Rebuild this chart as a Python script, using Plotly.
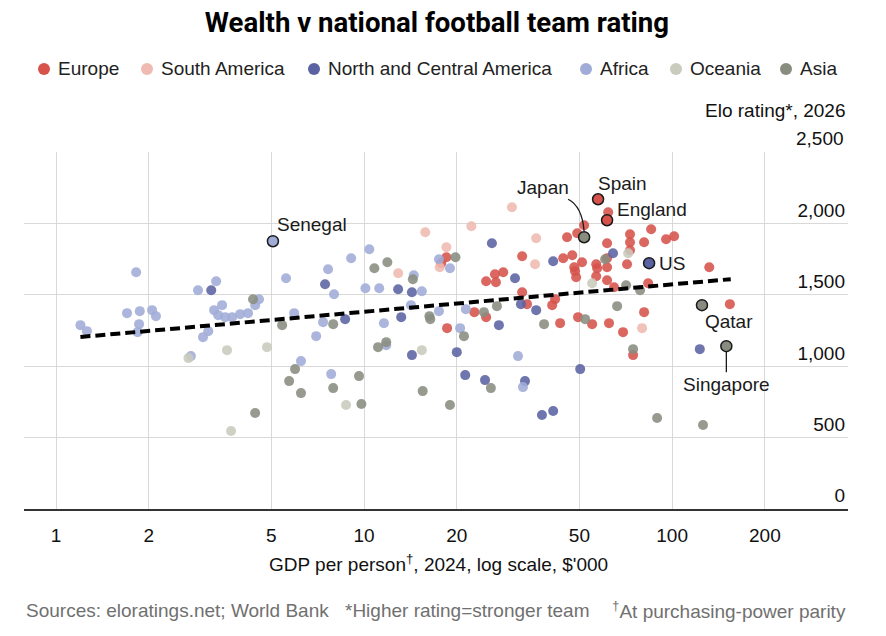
import numpy as np
import plotly.graph_objects as go

# ---------------- data (GDP per person, $'000 PPP ; Elo rating) ----------------
europe_gdp = [18.6, 22.8, 24.9, 24.9, 26.6, 28.3, 26.8, 17.8, 18.5, 32.6, 32.6, 33.8, 43.3, 44.3,
              47.4, 45.6, 49.2, 51.8, 40.8, 41.7, 49.5, 55.0, 48.1, 48.4, 48.8, 51.0, 56.7, 57.1,
              56.7, 61.5, 61.5, 61.5, 61.5, 62.0, 73.0, 73.0, 73.0, 71.4, 81.1, 85.5, 83.6, 81.1,
              62.4, 69.3, 74.7, 64.8, 95.6, 101.5, 132, 154]
europe_elo = [1267, 1379, 1344, 1596, 1645, 1659, 1589, 1722, 1764, 1771, 1519, 1435, 1302, 1757,
              1778, 1904, 1932, 1988, 1428, 1470, 1344, 1295, 1694, 1666, 1624, 1729, 1715, 1687,
              1631, 1862, 1757, 1694, 1603, 2079, 1925, 1869, 1813, 1715, 1869, 1960, 1582, 1379,
              1302, 1239, 1078, 1554, 1890, 1911, 1694, 1435]

samerica_gdp = [12.9, 15.8, 18.5, 17.6, 22.3, 30.2, 36.2, 35.9, 79.9]
samerica_elo = [1652, 1939, 1834, 1694, 1981, 2114, 1897, 1715, 1267]

ncamerica_gdp = [3.19, 7.47, 8.68, 12.9, 14.3, 13.2, 14.3, 20.0, 21.3, 24.7, 26.0, 30.9, 32.3,
                 36.2, 27.4, 33.3, 37.8, 41.1, 41.1, 50.3, 64.3, 123]
ncamerica_elo = [1533, 1575, 1330, 1540, 1519, 1344, 1078, 1099, 938, 903, 1862, 1617, 1435,
                 1393, 1288, 896, 658, 686, 1736, 980, 1792, 1120]

africa_gdp = [1.20, 1.26, 1.70, 1.82, 1.87, 1.86, 1.84, 2.05, 2.11, 2.89, 3.00, 3.12, 2.74, 3.31,
              3.26, 3.46, 3.36, 3.54, 3.73, 3.96, 4.20, 4.56, 4.43, 5.58, 5.93, 6.24, 6.99, 7.36,
              7.64, 7.99, 7.82, 9.08, 10.4, 10.1, 11.2, 11.6, 11.8, 14.5, 15.4, 14.2, 17.5, 17.5,
              19.0, 20.5, 21.4, 31.6, 32.8]
africa_elo = [1288, 1246, 1372, 1659, 1386, 1295, 1239, 1393, 1351, 1533, 1204, 1246, 1071, 1596,
              1393, 1428, 1358, 1344, 1344, 1365, 1372, 1470, 1428, 1617, 1372, 1036, 1211, 1309,
              1680, 1505, 945, 1757, 1820, 1547, 1547, 1302, 1148, 1638, 1526, 1428, 1386, 1750,
              1687, 1267, 1400, 1071, 854]

oceania_gdp = [2.69, 3.59, 4.84, 3.70, 8.74, 15.4, 55.0, 72.0]
oceania_elo = [1057, 1113, 1134, 546, 728, 1113, 1582, 1792]

asia_gdp = [4.36, 5.42, 5.97, 5.71, 6.24, 4.43, 7.94, 7.94, 10.8, 11.9, 14.4, 11.1, 11.8, 9.63,
            9.8, 15.5, 19.0, 16.3, 16.4, 19.8, 21.1, 24.5, 25.8, 27.0, 38.4, 52.2, 60.6, 66.3,
            70.9, 78.7, 74.7, 89.4, 126]
asia_elo = [1470, 1288, 980, 896, 812, 672, 1295, 847, 1687, 1729, 1610, 1134, 1169, 931,
            735, 826, 728, 1351, 1330, 1764, 1211, 1379, 847, 1421, 1295, 1330, 1750, 1421,
            1568, 1533, 1120, 637, 588]

hl_names = ["Spain", "England", "Japan", "US", "Qatar", "Singapore", "Senegal"]
hl_region = ["Europe", "Europe", "Asia", "North and Central America", "Asia", "Asia", "Africa"]
hl_gdp = [57.5, 61.5, 51.8, 84.2, 125, 150, 5.06]
hl_elo = [2170, 2023, 1904, 1722, 1428, 1141, 1876]

trend_gdp = [1.2, 155]
trend_elo = [1205, 1610]

x_ticks = [1, 2, 5, 10, 20, 50, 100, 200]
y_ticks = [0, 500, 1000, 1500, 2000, 2500]

# ---------------- styling ----------------
colors = {
    "Europe": "#d6524b",
    "South America": "#efbab1",
    "North and Central America": "#5b62a2",
    "Africa": "#a0acd7",
    "Oceania": "#c9cbbd",
    "Asia": "#898d7f",
}
FONT = "Liberation Sans, Arial, sans-serif"
L, R, T, B = 24, 38, 152, 127
W, H = 886 - L - R, 636 - T - B
XR = [-0.104, 2.571]
YR = [0, 2501]

groups = [
    ("Europe", europe_gdp, europe_elo),
    ("South America", samerica_gdp, samerica_elo),
    ("North and Central America", ncamerica_gdp, ncamerica_elo),
    ("Africa", africa_gdp, africa_elo),
    ("Oceania", oceania_gdp, oceania_elo),
    ("Asia", asia_gdp, asia_elo),
]

fig = go.Figure()
for name, gx, gy in groups:
    fig.add_trace(go.Scatter(
        x=gx, y=gy, mode="markers", name=name, showlegend=False,
        marker=dict(size=10, color=colors[name], opacity=0.88, line=dict(width=0)),
        hoverinfo="skip"))

fig.add_trace(go.Scatter(
    x=trend_gdp, y=trend_elo, mode="lines", showlegend=False,
    line=dict(color="black", width=4, dash="10px,5px"), hoverinfo="skip"))

fig.add_trace(go.Scatter(
    x=hl_gdp, y=hl_elo, mode="markers", showlegend=False,
    marker=dict(size=11, color=[colors[r] for r in hl_region],
                line=dict(color="#1a1a1a", width=1.5)),
    hoverinfo="skip"))

# labels for highlighted countries: (xanchor, xshift, yshift)
label_pos = {
    "Spain": ("left", -2, 16),
    "England": ("left", 8, 11),
    "US": ("left", 8, 0),
    "Qatar": ("left", 1, -16),
    "Senegal": ("left", 2, 17),
    "Japan": ("right", -13, 50),
}
annotations = []
for n, gx, gy in zip(hl_names, hl_gdp, hl_elo):
    if n in label_pos:
        xa, xs, ys = label_pos[n]
        annotations.append(dict(x=np.log10(gx), y=gy, xref="x", yref="y", text=n,
                                showarrow=False, xanchor=xa, yanchor="middle",
                                xshift=xs, yshift=ys,
                                font=dict(family=FONT, size=19, color="#1a1a1a")))
    elif n == "Singapore":
        annotations.append(dict(x=np.log10(gx), y=gy, xref="x", yref="y", text=n,
                                showarrow=True, arrowhead=0, arrowwidth=1.3,
                                arrowcolor="#1a1a1a", ax=0, ay=38, standoff=5,
                                font=dict(family=FONT, size=19, color="#1a1a1a")))


def to_paper(gx, gy, dx=0.0, dy=0.0):
    px = (np.log10(gx) - XR[0]) / (XR[1] - XR[0]) + dx / W
    py = (gy - YR[0]) / (YR[1] - YR[0]) - dy / H
    return px, py


j = hl_names.index("Japan")
s0 = to_paper(hl_gdp[j], hl_elo[j], -16, -38)
c0 = to_paper(hl_gdp[j], hl_elo[j], -2, -31)
e0 = to_paper(hl_gdp[j], hl_elo[j], 0, -6)
shapes = [dict(type="path", xref="paper", yref="paper",
               path=f"M {s0[0]},{s0[1]} Q {c0[0]},{c0[1]} {e0[0]},{e0[1]}",
               line=dict(color="#1a1a1a", width=1.3))]

# manual legend (dot centre x positions in pixels)
legend_names = ["Europe", "South America", "North and Central America", "Africa", "Oceania", "Asia"]
legend_dot_px = [44, 147, 314, 586, 676, 786]
LEG_Y = (509 - 69) / H
for nm, dx in zip(legend_names, legend_dot_px):
    cx = (dx - L) / W
    rx, ry = 6 / W, 6 / H
    shapes.append(dict(type="circle", xref="paper", yref="paper",
                       x0=cx - rx, x1=cx + rx, y0=LEG_Y - ry, y1=LEG_Y + ry,
                       fillcolor=colors[nm], line=dict(width=0), layer="above"))
    annotations.append(dict(x=(dx + 12 - L) / W, y=LEG_Y, xref="paper", yref="paper",
                            xanchor="left", yanchor="middle", text=nm, showarrow=False,
                            font=dict(family=FONT, size=19, color="#222")))

annotations += [
    dict(x=1, y=(509 - 111) / H, xref="paper", yref="paper", xanchor="right", yanchor="middle",
         text="Elo rating*, 2026", showarrow=False,
         font=dict(family=FONT, size=19, color="#111")),
    dict(x=1, y=2500, xref="paper", yref="y", xanchor="right", yanchor="middle", yshift=14,
         xshift=-2, text=f"{y_ticks[-1]:,}", showarrow=False,
         font=dict(family=FONT, size=19, color="#111")),
    dict(x=(438 - L) / W, y=(509 - 563) / H, xref="paper", yref="paper", xanchor="center",
         yanchor="middle", text="GDP per person<sup>†</sup>, 2024, log scale, $'000",
         showarrow=False, font=dict(family=FONT, size=19, color="#111")),
    dict(x=0, y=(509 - 610) / H, xref="paper", yref="paper", xanchor="left", yanchor="middle",
         text="Sources: eloratings.net; World Bank", showarrow=False,
         font=dict(family=FONT, size=19, color="#707070")),
    dict(x=(467 - L) / W, y=(509 - 610) / H, xref="paper", yref="paper", xanchor="center",
         yanchor="middle", text="*Higher rating=stronger team", showarrow=False,
         font=dict(family=FONT, size=19, color="#707070")),
    dict(x=1, y=(509 - 610) / H, xref="paper", yref="paper", xanchor="right", yanchor="middle",
         text="<sup>†</sup>At purchasing-power parity", showarrow=False,
         font=dict(family=FONT, size=19, color="#707070")),
]

fig.update_layout(
    width=886, height=636,
    margin=dict(l=L, r=R, t=T, b=B, pad=0),
    paper_bgcolor="white", plot_bgcolor="white",
    font=dict(family=FONT, size=19, color="#111"),
    showlegend=False,
    title=dict(text="<b>Wealth v national football team rating</b>", x=0.4932, xanchor="center",
               y=1 - 22 / 636, yanchor="middle", yref="container",
               font=dict(family="Roboto, Liberation Sans, sans-serif", size=27.6, color="#000")),
    xaxis=dict(type="log", range=XR, tickvals=x_ticks, ticktext=[str(v) for v in x_ticks],
               showgrid=True, gridcolor="#d9d9d9", gridwidth=1, showline=True,
               linecolor="#333", linewidth=2, ticks="", zeroline=False,
               ticklabelstandoff=8, tickfont=dict(family=FONT, size=19, color="#111")),
    yaxis=dict(range=YR, tickvals=y_ticks,
               ticktext=[f"{v:,}" if v != y_ticks[-1] else "" for v in y_ticks],
               side="right", ticklabelposition="inside top", showgrid=True,
               gridcolor="#d9d9d9", gridwidth=1, zeroline=False, showline=False, ticks="",
               tickfont=dict(family=FONT, size=19, color="#111")),
    annotations=annotations,
    shapes=shapes,
    hovermode=False,
)

fig.write_html("out.html")
